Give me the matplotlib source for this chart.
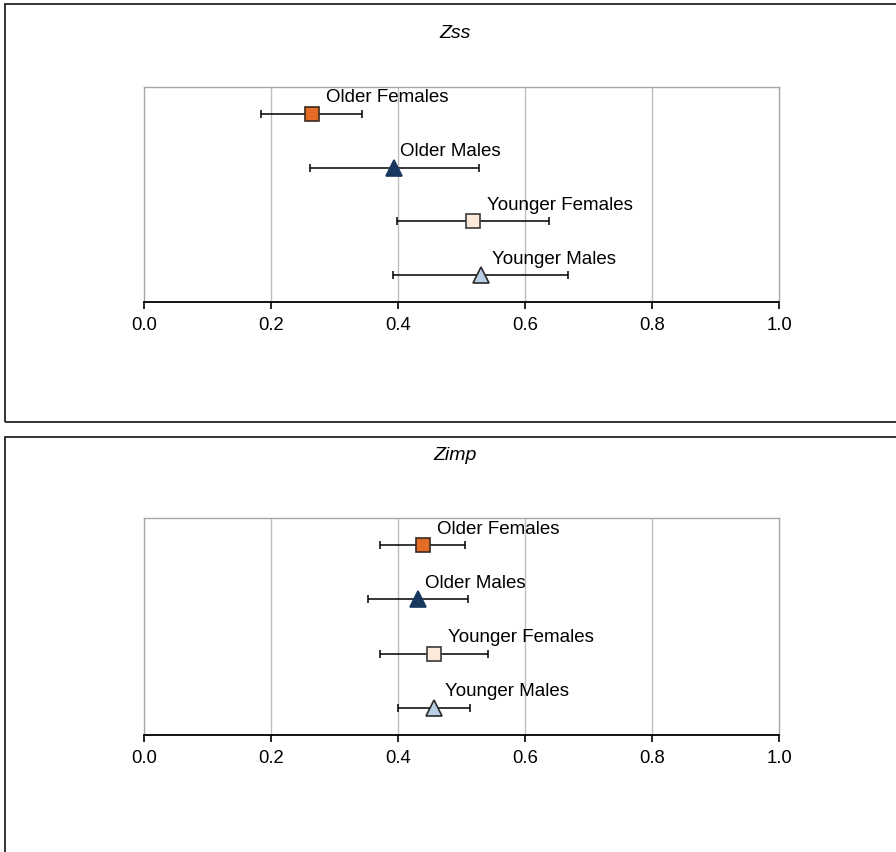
import matplotlib
matplotlib.use("Agg")
import matplotlib.pyplot as plt
from matplotlib.patches import Rectangle

plt.rcParams['font.family'] = ['Liberation Sans', 'DejaVu Sans']

groups = ["Older Females", "Older Males", "Younger Females", "Younger Males"]
rows = [3.5, 2.5, 1.5, 0.5]

zss_mean = [0.264, 0.394, 0.518, 0.530]
zss_err = [0.079, 0.133, 0.120, 0.138]

zimp_mean = [0.439, 0.432, 0.457, 0.457]
zimp_err = [0.067, 0.079, 0.085, 0.057]

x_ticks = [0.0, 0.2, 0.4, 0.6, 0.8, 1.0]

styles = {
    "Older Females":   dict(marker="s", face="#E46C27", edge="#3a2a20", ms=10, dx=10.5),
    "Older Males":     dict(marker="^", face="#17375E", edge="#17375E", ms=11, dx=4.5),
    "Younger Females": dict(marker="s", face="#FDE9D9", edge="#3a3a3a", ms=10, dx=10),
    "Younger Males":   dict(marker="^", face="#B9CDE5", edge="#2a2a2a", ms=11, dx=8),
}

W, H = 896, 852
fig = plt.figure(figsize=(W / 100, H / 100), dpi=100)


def px_box(x0, y0, x1, y1):
    return [x0 / W, 1 - y1 / H, (x1 - x0) / W, (y1 - y0) / H]


def panel(box, frame, title, title_y, means, errs):
    fx0, fy0, fx1, fy1 = frame
    fig.patches.append(Rectangle((fx0 / W, 1 - fy1 / H), (fx1 - fx0) / W, (fy1 - fy0) / H,
                                 transform=fig.transFigure, fill=False,
                                 edgecolor="#222222", linewidth=1.3, zorder=0))
    fig.text(455 / W, 1 - title_y / H, title, ha="center", va="center",
             fontsize=14, style="italic")
    ax = fig.add_axes(box)
    ax.set_xlim(0, 1)
    ax.set_ylim(0, 4)
    ax.set_xticks(x_ticks)
    ax.set_xticklabels([f"{t:.1f}" for t in x_ticks], fontsize=13.3)
    ax.set_yticks([])
    ax.tick_params(axis="x", direction="out", length=5, width=1.2, pad=6, color="black")
    for sp in ["left", "right", "top"]:
        ax.spines[sp].set_color("#A6A6A6")
        ax.spines[sp].set_linewidth(1.0)
    ax.spines["bottom"].set_color("black")
    ax.spines["bottom"].set_linewidth(1.3)
    for t in x_ticks[1:-1]:
        ax.axvline(t, color="#BEBEBE", linewidth=1.0, zorder=0)
    for g, y, m, e in zip(groups, rows, means, errs):
        st = styles[g]
        ax.errorbar(m, y, xerr=e, fmt="none", ecolor="black", elinewidth=1.1,
                    capsize=2.8, capthick=1.1, zorder=2)
        ax.plot(m, y, marker=st["marker"], markersize=st["ms"],
                markerfacecolor=st["face"], markeredgecolor=st["edge"],
                markeredgewidth=1.2, linestyle="none", zorder=3)
        ax.annotate(g, (m, y), xytext=(st["dx"], 11.5), textcoords="offset points",
                    ha="left", va="center", fontsize=13.5)
    return ax


panel(px_box(144, 87, 779, 302), (5, 4, 902, 422), "Zss", 34, zss_mean, zss_err)
panel(px_box(144, 518, 779, 735), (5, 437, 902, 870), "Zimp", 456, zimp_mean, zimp_err)

fig.savefig("out.png", dpi=100)
